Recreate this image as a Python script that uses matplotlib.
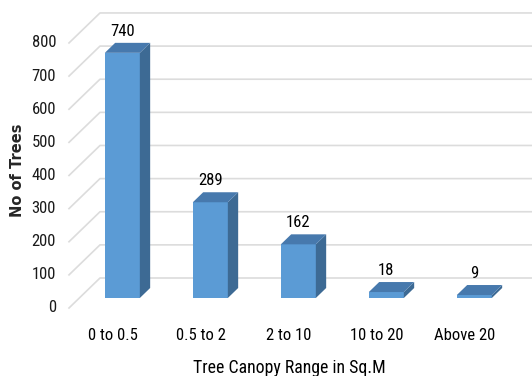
import matplotlib
matplotlib.use("Agg")
import matplotlib.pyplot as plt
from matplotlib import font_manager
from matplotlib.patches import Polygon

# --- DATA ---
categories = ["0 to 0.5", "0.5 to 2", "2 to 10", "10 to 20", "Above 20"]
tree_counts = [740, 289, 162, 18, 9]
y_ticks = [0, 100, 200, 300, 400, 500, 600, 700, 800]


def pick_font(names):
    for n in names:
        try:
            font_manager.findfont(n, fallback_to_default=False)
            return n
        except Exception:
            pass
    return "DejaVu Sans"


NARROW = pick_font(["Liberation Sans Narrow", "Roboto Condensed", "Open Sans Condensed", "Lato"])

# --- STYLE / 3D FAKE GEOMETRY ---
FRONT = "#5b9bd5"
SIDE = "#3d6a94"
TOP = "#4779ad"
GRID = "#dcdcdc"

PX_X = 88.0            # pixels per category
PX_Y = 0.3313          # pixels per unit
DX = 31 / PX_X         # full floor depth, in category units
DY = 30 / PX_Y         # full floor depth, in value units
W = 35 / PX_X          # bar width
FS = 12 if NARROW != "Lato" else 11.5

fig = plt.figure(figsize=(5.32, 3.76), dpi=100)
ax = fig.add_axes([0, 0, 1, 1])
ax.set_xlim(-112 / PX_X, 420 / PX_X)
ax.set_ylim(-68 / PX_Y, 308 / PX_Y)
ax.axis("off")

# wall gridlines (diagonal from front + horizontal at back)
x_front = (69 - 112) / PX_X
x_right = 420 / PX_X
for t in y_ticks:
    ax.plot([x_front, x_front + DX, x_right], [t, t + DY, t + DY],
            color=GRID, lw=1.2, zorder=1)
    ax.text((56 - 112) / PX_X, t, str(t), ha="right", va="center",
            fontsize=FS, family=NARROW, color="#1a1a1a")

# bars
for i, v in enumerate(tree_counts):
    x0 = i - W / 2 + DX / 3
    y0 = DY / 3
    dx, dy = DX / 3, DY / 3
    ax.bar(x0, v, width=W, bottom=y0, align="edge", color=FRONT,
           edgecolor="none", zorder=3)
    top = [(x0, y0 + v), (x0 + W, y0 + v), (x0 + W + dx, y0 + v + dy), (x0 + dx, y0 + v + dy)]
    side = [(x0 + W, y0), (x0 + W + dx, y0 + dy), (x0 + W + dx, y0 + v + dy), (x0 + W, y0 + v)]
    ax.add_patch(Polygon(side, closed=True, facecolor=SIDE, edgecolor="none", zorder=3))
    ax.add_patch(Polygon(top, closed=True, facecolor=TOP, edgecolor="none", zorder=4))
    ax.annotate(str(v), (i + DX / 3, v + 2 * DY / 3), xytext=(0, 3),
                textcoords="offset points", ha="center", va="bottom",
                fontsize=FS, family=NARROW, color="#000000")
    ax.text(i + 0.01, (308 - 335) / PX_Y, categories[i], ha="center", va="center",
            fontsize=FS, family=NARROW, color="#000000")

ax.text(289 / PX_X - 112 / PX_X, (308 - 368) / PX_Y, "Tree Canopy Range in Sq.M",
        ha="center", va="center", fontsize=12.8, family=NARROW, color="#000000")
ax.text((18 - 112) / PX_X, (308 - 170) / PX_Y, "No of Trees", rotation=90,
        ha="center", va="center", fontsize=10.5, fontweight="bold", color="#262626")

fig.savefig("out.png", dpi=100)
